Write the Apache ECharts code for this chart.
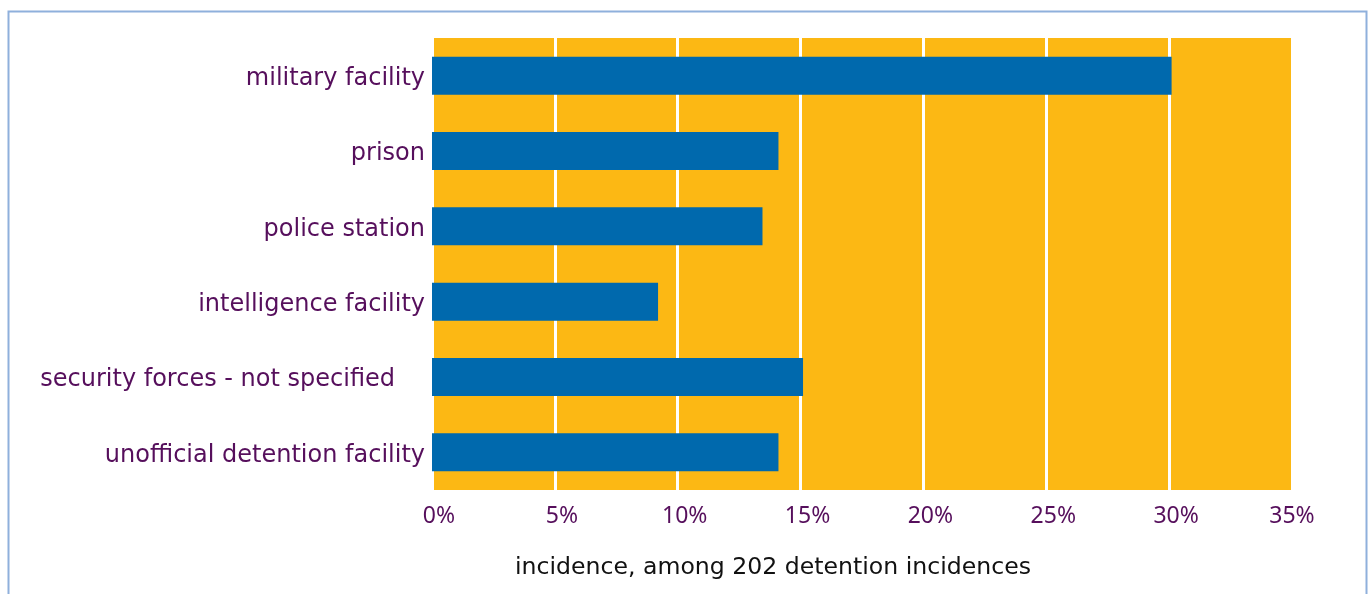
<!DOCTYPE html>
<html>
<head>
<meta charset="utf-8">
<script src="https://cdn.jsdelivr.net/npm/echarts@6/dist/echarts.min.js"></script>
<style>
html,body{margin:0;padding:0;background:#fff;}
#c{width:1370px;height:594px;}
</style>
</head>
<body>
<div id="c"></div>
<script>
const categories = ['military facility','prison','police station','intelligence facility','security forces - not specified','unofficial detention facility'];
const values = [30.1, 14.1, 13.45, 9.2, 15.1, 14.1];
const xTicks = [0,5,10,15,20,25,30,35];
const axisTitle = 'incidence, among 202 detention incidences';

const purple = '#560f5c';
const chart = echarts.init(document.getElementById('c'));
chart.setOption({
  animation: false,
  textStyle: {fontFamily: 'DejaVu Sans'},
  graphic: [
    {type:'rect', shape:{x:8.5,y:11.5,width:1358,height:620}, style:{fill:'none', stroke:'#8fb0dc', lineWidth:2}, z:0},
    {type:'text', left:515, top:556, style:{text: axisTitle, fill:'#111', font:'23.6px "DejaVu Sans"'}}
  ],
  grid: {left:432, right:78, top:38, bottom:104, show:true, backgroundColor:'#fcb814', borderWidth:0},
  xAxis: {
    type:'value', min:xTicks[0], max:xTicks[xTicks.length-1], interval:5,
    axisLine:{show:false}, axisTick:{show:false},
    splitLine:{show:true, lineStyle:{color:'#ffffff', width:3}},
    axisLabel:{color:purple, fontSize:23, fontFamily:'Noto Sans', margin:15,
      formatter: v => (v === xTicks[xTicks.length-1] ? '{b|' : '{a|') + v + '%}',
      rich:{
        a:{color:purple, fontSize:23, fontFamily:'Noto Sans', padding:[0,0,0,14]},
        b:{color:purple, fontSize:23, fontFamily:'Noto Sans'}
      }
    }
  },
  yAxis: {
    type:'category', data:categories, inverse:true,
    axisLine:{show:false}, axisTick:{show:false},
    axisLabel:{color:purple, fontSize:24, fontFamily:'DejaVu Sans', margin:7,
      formatter: v => v.indexOf('security') === 0 ? '{p|' + v + '}' : '{n|' + v + '}',
      rich:{
        p:{color:purple, fontSize:24, fontFamily:'DejaVu Sans', padding:[6,30,0,0]},
        n:{color:purple, fontSize:24, fontFamily:'DejaVu Sans', padding:[6,0,0,0]}
      }
    }
  },
  series: [{
    type:'bar', data:values, barWidth:38,
    itemStyle:{color:'#0069ad'}
  }]
});
</script>
</body>
</html>
